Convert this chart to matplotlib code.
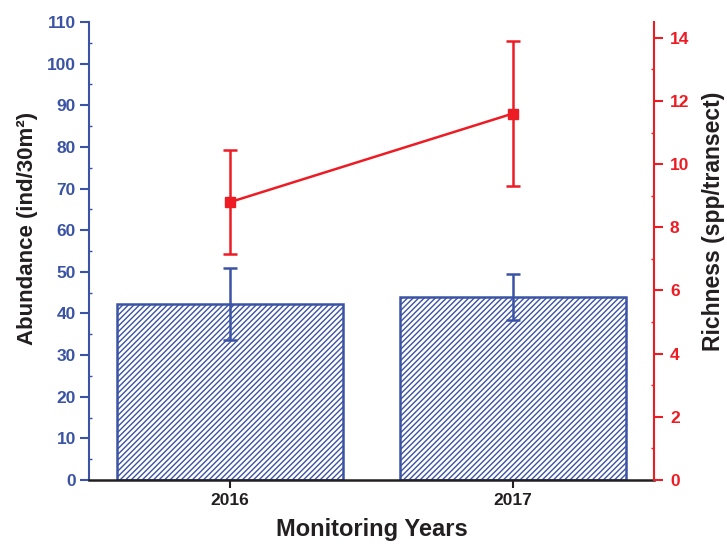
import matplotlib.pyplot as plt
import numpy as np
from matplotlib.ticker import MultipleLocator

plt.rcParams['font.family'] = ['Liberation Sans', 'DejaVu Sans']
plt.rcParams['font.weight'] = 'bold'
plt.rcParams['hatch.linewidth'] = 1.0

# datos
anos = ['2016', '2017']
abundancia = [42.2, 44.0]
abundancia_err = [8.6, 5.5]
riqueza = [8.8, 11.6]
riqueza_err = [1.64, 2.3]

AZUL = '#3a53a4'
ROJO = '#ed1c24'
NEGRO = '#231f20'

fig = plt.figure(figsize=(7.27, 5.44), dpi=100)
ax = fig.add_axes([0.1224, 0.1176, 0.7772, 0.842])
x = np.arange(len(anos))

ax.bar(x, abundancia, width=0.8, facecolor='white', edgecolor=AZUL,
       linewidth=1.8, hatch='//////', zorder=2)
ax.errorbar(x, abundancia, yerr=abundancia_err, fmt='none', ecolor=AZUL,
            elinewidth=1.8, capsize=5, capthick=1.8, zorder=3)

ax.set_xlim(-0.5, 1.5)
ax.set_ylim(0, 110)
ax.set_xticks(x)
ax.set_xticklabels(anos, fontsize=12.5, color=NEGRO)
ax.yaxis.set_major_locator(MultipleLocator(10))
ax.yaxis.set_minor_locator(MultipleLocator(5))
ax.tick_params(axis='y', which='major', colors=AZUL, labelsize=12.5, width=1.5,
               length=6.5, pad=3, direction='out')
ax.tick_params(axis='y', which='minor', colors=AZUL, width=1, length=2, direction='in')
ax.tick_params(axis='x', which='major', colors=NEGRO, width=1.5, length=6, direction='out')
ax.spines['top'].set_visible(False)
ax.spines['right'].set_visible(False)
ax.spines['left'].set_color(AZUL)
ax.spines['left'].set_linewidth(1.5)
ax.spines['bottom'].set_color(NEGRO)
ax.spines['bottom'].set_linewidth(1.8)
ax.set_ylabel('Abundance (ind/30m²)', fontsize=16, fontweight='bold', labelpad=6, color=NEGRO)
ax.yaxis.label.set_y(0.55)
ax.set_xlabel('Monitoring Years', fontsize=17, fontweight='bold', labelpad=7, color=NEGRO)

ax2 = ax.twinx()
ax2.errorbar(x, riqueza, yerr=riqueza_err, color=ROJO, marker='s', markersize=7,
             linewidth=1.8, elinewidth=1.8, capsize=5, capthick=1.8)
ax2.set_ylim(0, 14.5)
ax2.yaxis.set_major_locator(MultipleLocator(2))
ax2.yaxis.set_minor_locator(MultipleLocator(1))
ax2.tick_params(axis='y', which='major', colors=ROJO, labelsize=12.5, width=1.5,
                length=6.5, pad=5, direction='out')
ax2.tick_params(axis='y', which='minor', colors=ROJO, width=1, length=2, direction='in')
for s in ['top', 'left', 'bottom']:
    ax2.spines[s].set_visible(False)
ax2.spines['right'].set_color(ROJO)
ax2.spines['right'].set_linewidth(1.5)
ax2.set_ylabel('Richness (spp/transect)', fontsize=16.5, fontweight='bold', labelpad=9, color=NEGRO)
ax2.yaxis.label.set_y(0.565)

fig.savefig('out.png', dpi=100)
